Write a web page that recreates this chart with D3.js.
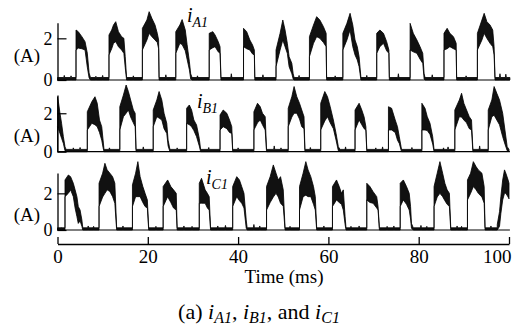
<!DOCTYPE html>
<html>
<head>
<meta charset="utf-8">
<script src="https://cdn.jsdelivr.net/npm/d3@7"></script>
<style>
  body { margin: 0; background: #fff; }
  svg text { font-family: "Liberation Serif", "Times New Roman", serif; fill: #000; }
</style>
</head>
<body>
<svg id="chart" width="524" height="331"></svg>
<script>
// ---- data -------------------------------------------------------------
// time axis (ms) and current axis (A) tick values
const timeTicks = [0, 20, 40, 60, 80, 100];
const currentTicks = [0, 2];
// phase names: letter + index used in the subscripts
const phaseNames = [["A", "1"], ["B", "1"], ["C", "1"]];
// switching ripple level of the trace while a phase is idle (A)
const rippleLevel = 0.12;

// each pulse is a list of [time ms, upper envelope A, lower envelope A]
const pulsesA = [
  [[4.1,2.40,1.44],[4.6,2.32,1.53],[5.4,2.08,1.50],[6.1,1.84,1.44],[6.6,1.29,0.62],[7.0,0.34,0.10],[7.3,0.12,0]],
  [[11.4,2.16,1.20],[12.0,2.40,1.50],[12.4,2.64,1.76],[12.9,2.80,1.84],[13.5,2.32,1.60],[14.2,2.08,1.44],[14.7,2.00,1.28],[15.0,1.12,0.60],[15.3,0.12,0]],
  [[18.8,2.48,1.44],[19.8,2.88,1.92],[20.3,3.28,2.24],[20.9,2.96,2.08],[21.6,2.64,1.92],[22.1,2.24,1.80],[22.4,1.92,1.50],[22.5,0.12,0]],
  [[26.2,2.32,1.28],[27.1,2.64,1.76],[27.6,2.90,1.70],[28.3,2.40,1.40],[28.7,1.70,1.00],[29.2,0.90,0.50],[29.5,0.30,0.05],[29.8,0.12,0]],
  [[33.6,2.24,1.44],[34.4,2.32,1.55],[34.9,2.16,1.60],[35.6,1.84,1.35],[36.0,1.60,1.28],[36.2,0.12,0]],
  [[41.2,2.48,1.60],[41.9,2.32,1.50],[42.6,1.92,1.44],[43.2,1.68,1.25],[43.6,1.44,1.20],[43.7,0.12,0]],
  [[48.4,1.44,0.64],[49.3,2.24,1.44],[49.9,2.88,1.92],[50.4,2.40,1.60],[50.9,1.76,1.28],[51.3,1.12,0.64],[51.9,0.80,0.30],[52.2,0.30,0.05],[52.4,0.12,0]],
  [[55.8,2.08,1.12],[56.7,2.64,1.76],[57.4,3.04,2.08],[58.1,2.88,2.00],[58.9,2.56,1.80],[59.5,2.24,1.60],[59.6,0.12,0]],
  [[63.2,2.24,1.44],[64.1,2.72,1.92],[64.8,3.20,2.40],[65.4,2.64,1.60],[65.9,1.92,1.20],[66.4,1.60,0.96],[66.8,1.12,0.64],[67.2,0.12,0]],
  [[70.7,2.24,1.28],[71.4,2.40,1.60],[72.2,2.24,1.76],[72.9,1.84,1.40],[73.4,1.44,1.28],[73.5,0.12,0]],
  [[78.1,2.72,1.44],[78.8,2.24,1.35],[79.6,1.92,1.28],[80.3,1.60,1.00],[80.9,1.28,0.80],[81.2,0.30,0.05],[81.4,0.12,0]],
  [[85.6,2.24,1.44],[86.3,2.48,1.50],[86.9,2.24,1.60],[87.7,2.08,1.50],[88.3,1.76,1.44],[88.4,0.12,0]],
  [[93.0,2.24,1.44],[94.0,2.88,1.92],[94.5,3.20,2.24],[95.1,2.80,2.00],[95.8,2.64,1.76],[96.4,2.40,1.60],[96.7,1.60,1.20],[96.9,0.12,0]]
];
const pulsesB = [
  [[0.0,2.86,1.30],[0.2,2.60,1.20],[0.55,2.00,0.95],[0.9,1.48,0.70],[1.3,0.78,0.43],[1.66,0.26,0.05],[1.9,0.12,0]],
  [[6.6,2.08,1.13],[7.6,2.60,1.48],[8.3,2.86,1.40],[8.8,2.52,1.30],[9.3,1.65,1.00],[9.8,1.30,0.60],[10.1,0.60,0.20],[10.3,0.12,0]],
  [[13.8,2.34,1.13],[14.6,2.95,1.82],[15.2,3.47,2.00],[15.7,3.13,2.17],[16.2,2.69,1.80],[16.8,2.17,1.50],[17.2,2.00,1.30],[17.4,0.12,0]],
  [[21.2,2.17,1.30],[22.0,2.69,1.82],[22.5,3.13,1.75],[23.1,2.69,1.65],[23.6,2.00,1.20],[24.2,1.48,0.95],[24.5,0.60,0.30],[24.9,0.12,0]],
  [[28.6,2.26,1.48],[29.2,2.43,1.40],[29.7,2.17,1.30],[30.2,1.65,1.10],[30.8,1.39,0.78],[31.4,0.69,0.30],[31.7,0.12,0]],
  [[36.0,1.91,1.13],[36.7,2.17,1.30],[37.5,2.00,1.20],[38.1,1.65,1.00],[38.6,1.30,0.95],[38.8,0.12,0]],
  [[43.5,2.08,1.13],[44.3,2.52,1.50],[44.9,2.34,1.65],[45.4,2.00,1.40],[46.0,1.82,1.13],[46.3,0.12,0]],
  [[51.1,2.26,1.30],[51.9,2.86,1.80],[52.4,3.39,2.00],[53.0,2.86,2.00],[53.6,2.52,1.70],[54.1,2.17,1.30],[54.6,1.82,1.20],[54.8,0.12,0]],
  [[58.3,2.52,1.13],[59.2,3.13,1.60],[59.8,2.86,1.82],[60.4,2.34,1.50],[61.1,1.65,1.20],[61.7,0.95,0.60],[62.2,0.26,0.05],[62.6,0.12,0]],
  [[65.9,2.17,1.13],[66.8,2.52,1.65],[67.4,2.17,1.40],[67.9,1.82,1.20],[68.3,1.30,1.13],[68.5,0.12,0]],
  [[73.3,2.34,1.13],[74.0,2.26,1.13],[74.8,1.65,1.00],[75.3,1.30,0.60],[75.7,0.78,0.43],[76.2,0.12,0]],
  [[80.7,2.52,1.13],[81.4,2.26,1.13],[81.9,1.82,1.10],[82.5,1.48,0.90],[83.1,0.78,0.40],[83.4,0.12,0]],
  [[88.0,2.17,1.13],[89.0,2.69,1.82],[89.5,3.04,1.80],[90.0,2.52,1.65],[90.6,2.17,1.50],[91.2,1.82,1.20],[91.7,1.65,1.13],[92.0,0.12,0]],
  [[95.4,2.17,1.13],[96.2,2.69,1.82],[96.7,3.39,1.90],[97.3,3.04,1.65],[97.9,2.69,1.40],[98.6,2.00,0.78],[99.1,1.13,0.40],[99.6,0.26,0.05],[100,0.12,0]]
];
const pulsesC = [
  [[1.66,2.73,1.82],[2.4,3.00,2.00],[2.9,2.91,2.19],[3.5,2.55,1.82],[3.9,2.19,1.20],[4.3,1.82,0.73],[4.6,1.28,0.36],[5.0,1.09,0.50],[5.4,0.55,0.20],[5.6,0.12,0]],
  [[9.2,2.55,1.28],[10.0,3.10,1.80],[10.5,3.64,2.00],[11.0,3.28,2.19],[11.6,3.10,2.10],[12.2,2.91,1.82],[12.7,2.55,1.46],[13.1,0.12,0]],
  [[16.6,2.46,1.28],[17.3,3.10,1.82],[17.8,3.73,1.82],[18.3,2.91,1.82],[18.9,2.37,1.50],[19.4,2.00,1.28],[19.9,1.64,1.20],[20.2,0.12,0]],
  [[23.4,2.37,1.28],[24.4,2.73,1.82],[25.1,2.37,1.50],[25.7,2.19,1.20],[26.3,2.00,1.09],[26.5,0.12,0]],
  [[31.4,2.55,1.46],[31.9,2.82,1.46],[32.7,2.19,1.46],[33.2,2.00,1.20],[33.6,1.82,1.09],[33.9,0.12,0]],
  [[38.8,2.37,1.28],[39.7,2.91,1.82],[40.3,2.73,1.60],[40.8,2.37,1.46],[41.3,2.00,1.20],[41.8,0.55,0.10],[42.0,0.12,0]],
  [[46.3,2.37,1.09],[47.1,2.91,1.50],[47.8,3.55,1.80],[48.4,3.10,2.00],[48.9,2.73,1.80],[49.4,2.91,1.46],[50.0,2.19,1.30],[50.4,0.12,0]],
  [[53.6,2.37,1.09],[54.4,3.10,1.82],[55.0,3.73,1.90],[55.5,3.28,1.82],[56.1,2.91,1.82],[56.7,2.37,1.40],[57.1,1.82,1.09],[57.4,0.12,0]],
  [[60.9,2.37,1.28],[61.8,2.73,1.64],[62.4,2.37,1.50],[62.9,2.00,1.40],[63.3,2.19,1.09],[63.7,0.73,0.30],[63.9,0.12,0]],
  [[68.5,2.55,1.64],[69.2,2.37,1.50],[69.9,2.09,1.46],[70.7,1.82,1.20],[71.0,1.28,1.09],[71.3,0.12,0]],
  [[75.9,2.55,1.28],[76.6,2.73,1.64],[77.3,2.37,1.40],[77.9,2.00,1.09],[78.2,1.28,0.60],[78.4,0.36,0.10],[78.8,0.12,0]],
  [[83.4,2.37,1.28],[84.1,3.10,1.80],[84.7,3.73,2.00],[85.3,3.10,1.82],[85.8,2.55,1.60],[86.3,2.19,1.40],[86.8,2.00,1.28],[87.1,0.12,0]],
  [[90.8,2.73,1.64],[91.5,3.10,2.00],[92.1,3.73,2.37],[92.7,3.46,2.20],[93.2,3.28,2.00],[94.0,3.10,1.80],[94.5,2.37,1.46],[94.7,0.12,0]],
  [[97.4,0.30,0],[97.9,1.00,0.20],[98.2,1.82,0.90],[98.6,2.73,1.64],[99.0,3.28,2.00],[99.3,3.10,2.00],[99.8,2.73,1.80],[100,2.55,1.70]]
];
// short ripple spikes on the idle trace: [time ms, peak A]
const spikesA = [[1.5,0.22],[3.0,0.2],[8.5,0.18],[10.0,0.22],[16.8,0.2],[24.0,0.25],[31.0,0.2],[38.5,0.3],[45.5,0.25],[53.5,0.22],[61.5,0.2],[68.5,0.22],[75.5,0.3],[83.0,0.25],[90.5,0.2],[98.0,0.3],[99.3,0.28]];
const spikesB = [[3.5,0.2],[5.0,0.22],[11.5,0.2],[19.0,0.25],[26.5,0.2],[33.5,0.22],[40.0,0.2],[48.0,0.3],[49.5,0.2],[56.0,0.22],[63.8,0.25],[70.5,0.2],[72.0,0.25],[78.5,0.22],[85.5,0.2],[86.5,0.25],[93.5,0.3]];
const spikesC = [[0.8,0.15],[6.8,0.22],[8.0,0.2],[14.5,0.22],[21.8,0.2],[28.0,0.22],[29.8,0.2],[35.5,0.22],[37.2,0.25],[43.5,0.3],[44.8,0.22],[51.5,0.2],[59.0,0.22],[65.0,0.2],[66.8,0.22],[73.0,0.2],[74.5,0.22],[80.5,0.25],[81.8,0.2],[88.5,0.22],[89.5,0.2],[96.0,0.22]];

// ---- layout -----------------------------------------------------------
const serif = "Liberation Serif, Times New Roman, serif";
const svg = d3.select("#chart");
const x = d3.scaleLinear().domain([0, 100]).range([57.5, 509]);

const panels = [
  { pulses: pulsesA, spikes: spikesA, name: phaseNames[0],
    y: d3.scaleLinear().domain([0, 2.75]).range([80, 22.7]),
    unitY: 62, labelX: 187, labelY: 22 },
  { pulses: pulsesB, spikes: spikesB, name: phaseNames[1],
    y: d3.scaleLinear().domain([0, 2.95]).range([151.7, 95]),
    unitY: 142, labelX: 197, labelY: 108 },
  { pulses: pulsesC, spikes: spikesC, name: phaseNames[2],
    y: d3.scaleLinear().domain([0, 3.11]).range([230, 173]),
    unitY: 221, labelX: 206, labelY: 184 }
];

// assemble a continuous envelope trace from the pulses and idle ripple
function buildTrace(pulses, spikes) {
  const pts = [[0, rippleLevel, 0]];
  let prevEnd = 0;
  const addSpikes = (from, to) => {
    spikes.filter(s => s[0] > from && s[0] < to).forEach(s => {
      pts.push([s[0] - 0.12, rippleLevel, 0], [s[0], s[1], 0], [s[0] + 0.12, rippleLevel, 0]);
    });
  };
  pulses.forEach(p => {
    const t0 = p[0][0];
    addSpikes(prevEnd, t0);
    if (t0 > 0) pts.push([t0, rippleLevel, 0]);
    p.forEach(q => pts.push(q));
    prevEnd = p[p.length - 1][0];
  });
  addSpikes(prevEnd, 100.5);
  if (prevEnd < 100) pts.push([100.2, rippleLevel, 0]);
  return pts;
}

panels.forEach(pn => {
  const g = svg.append("g");
  const y = pn.y;

  // zero line across the panel
  g.append("line")
    .attr("x1", x(0)).attr("x2", x(100.2))
    .attr("y1", y(0)).attr("y2", y(0))
    .attr("stroke", "#000").attr("stroke-width", 1.2);

  // current trace: dense switching band drawn as an envelope area
  const trace = buildTrace(pn.pulses, pn.spikes);
  const area = d3.area()
    .x(d => x(d[0]))
    .y0(d => y(d[2]))
    .y1(d => y(d[1]));
  g.append("path")
    .datum(trace)
    .attr("d", area)
    .attr("fill", "#111")
    .attr("stroke", "#000")
    .attr("stroke-width", 0.8)
    .attr("stroke-linejoin", "round");

  // current axis with inward ticks
  const yAxis = d3.axisLeft(y).tickValues(currentTicks)
    .tickSizeInner(-9).tickSizeOuter(0).tickPadding(5)
    .tickFormat(d3.format("d"));
  const ga = g.append("g").attr("transform", `translate(${x(0)},0)`).call(yAxis)
    .attr("font-family", serif);
  ga.select(".domain").attr("stroke", "#000").attr("stroke-width", 1.3);
  ga.selectAll(".tick line").attr("stroke", "#000").attr("stroke-width", 1.2);
  ga.selectAll(".tick text").attr("font-size", 18)
    .attr("font-family", serif).attr("fill", "#000");

  // unit label
  g.append("text").attr("x", 27).attr("y", pn.unitY)
    .attr("text-anchor", "middle").attr("font-size", 19)
    .attr("font-family", serif).text("(A)");

  // phase label i with subscript
  const lab = g.append("text").attr("x", pn.labelX).attr("y", pn.labelY)
    .attr("font-size", 20).attr("font-style", "italic").attr("font-family", serif);
  lab.append("tspan").text("i");
  lab.append("tspan").attr("font-size", 14).attr("dy", 5).text(pn.name[0] + pn.name[1]);
});

// time axis with upward ticks
const xAxis = d3.axisBottom(x).tickValues(timeTicks)
  .tickSizeInner(-7).tickSizeOuter(0).tickPadding(6);
const gx = svg.append("g").attr("transform", "translate(0,244)").call(xAxis)
  .attr("font-family", serif);
gx.select(".domain").attr("stroke", "#000").attr("stroke-width", 1.3);
gx.selectAll(".tick line").attr("stroke", "#000").attr("stroke-width", 1.3);
gx.selectAll(".tick text").attr("font-size", 19)
  .attr("font-family", serif).attr("fill", "#000");
// keep the last label inside the frame
gx.selectAll(".tick text").filter(d => d === 100)
  .attr("text-anchor", "end").attr("x", 2);

svg.append("text").attr("x", 284).attr("y", 283)
  .attr("text-anchor", "middle").attr("font-size", 19)
  .attr("font-family", serif).text("Time (ms)");

// caption
const cap = svg.append("text").attr("x", 259).attr("y", 319)
  .attr("text-anchor", "middle").attr("font-size", 22).attr("font-family", serif);
const sub = 16;
cap.append("tspan").text("(a) ");
phaseNames.forEach((n, i) => {
  cap.append("tspan").attr("font-style", "italic").text("i");
  cap.append("tspan").attr("font-style", "italic").attr("font-size", sub).attr("dy", 4).text(n[0] + n[1]);
  cap.append("tspan").attr("dy", -4).text(i === 0 ? ", " : i === 1 ? ", and " : "");
});
</script>
</body>
</html>
